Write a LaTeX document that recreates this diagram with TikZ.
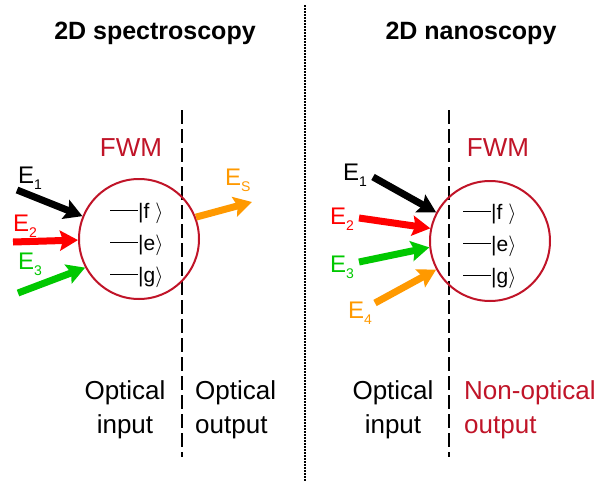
\documentclass[tikz,border=0pt]{standalone}
\usepackage{fontspec}
\setmainfont{Liberation Sans}
\usetikzlibrary{arrows.meta}

\definecolor{fwmred}{RGB}{192,20,40}
\definecolor{beamred}{RGB}{255,0,0}
\definecolor{beamgreen}{RGB}{0,200,0}
\definecolor{beamorange}{RGB}{255,153,0}

\newcommand{\Efield}[1]{E\raisebox{-0.55ex}{\fontsize{14}{14}\selectfont #1}}

\begin{document}
\begin{tikzpicture}[x=1pt,y=-1pt,
  beam/.style={line width=7pt,-{Stealth[length=18pt,width=20pt,inset=3pt]}},
  fwm/.style={circle,draw=fwmred,line width=2pt,minimum size=120pt,inner sep=0pt},
  elabel/.style={anchor=base west,inner sep=0pt,font=\fontsize{24}{24}\selectfont},
  level/.style={anchor=base west,inner sep=0pt,font=\fontsize{21}{21}\selectfont},
  side/.style={inner sep=0pt,font=\fontsize{26}{34.5}\selectfont},
  border/.style={line width=2.5pt,dash pattern=on 14pt off 5pt}]

\useasboundingbox (0,0) rectangle (606,482);

\draw[line width=2pt,dash pattern=on 1.5pt off 1.5pt] (305,5) -- (305,482); %divider

\node[anchor=base,inner sep=0pt,font=\fontsize{25}{25}\selectfont\bfseries] (titleL) at (155,39) {2D spectroscopy};
\node[anchor=base,inner sep=0pt,font=\fontsize{25}{25}\selectfont\bfseries] (titleR) at (471,39) {2D nanoscopy};

\draw[border] (182,110) -- (182,457);
\draw[border] (449,110) -- (449,457);

% spectroscopy
\node[fwm] (fwmL) at (139,239) {};
\node[inner sep=0pt,text=fwmred,font=\fontsize{26}{26}\selectfont] (fwmtextL) at (131,148) {FWM};
\node[level] (fL) at (110,218) {\rule[7.5pt]{28pt}{0.9pt}|f $\rangle$};
\node[level] (eL) at (110,250) {\rule[7.5pt]{28pt}{0.9pt}|e$\rangle$};
\node[level] (gL) at (110,282) {\rule[7.5pt]{28pt}{0.9pt}|g$\rangle$};

\coordinate (e1L) at (17,190);
\coordinate (e2L) at (13,242);
\coordinate (e3L) at (18,293);
\coordinate (esL) at (252,202);
\draw[beam,black] (e1L) -- (fwmL.158);
\draw[beam,beamred] (e2L) -- (fwmL.181);
\draw[beam,beamgreen] (e3L) -- (fwmL.208);
\draw[beam,beamorange] (fwmL.21) -- (esL);

\node[elabel] (E1L) at (18,183) {\Efield{1}};
\node[elabel,text=beamred] (E2L) at (13,231) {\Efield{2}};
\node[elabel,text=beamgreen] (E3L) at (18,269) {\Efield{3}};
\node[elabel,text=beamorange] (EsL) at (225,185) {\Efield{S}};

\node[side,anchor=north,align=center] (inL) at (125,380) {Optical\\input};
\node[side,anchor=north west,align=left] (outL) at (195,380) {Optical\\output};

% nanoscopy
\node[fwm] (fwmR) at (490,241) {};
\node[inner sep=0pt,text=fwmred,font=\fontsize{26}{26}\selectfont] (fwmtextR) at (498,148) {FWM};
\node[level] (fR) at (463,219) {\rule[7.5pt]{28pt}{0.9pt}|f $\rangle$};
\node[level] (eR) at (463,251) {\rule[7.5pt]{28pt}{0.9pt}|e$\rangle$};
\node[level] (gR) at (463,283) {\rule[7.5pt]{28pt}{0.9pt}|g$\rangle$};

\coordinate (e1R) at (373,177);
\coordinate (e2R) at (359,218);
\coordinate (e3R) at (359,262);
\coordinate (e4R) at (375,303);
\draw[beam,black] (e1R) -- (fwmR.152);
\draw[beam,beamred] (e2R) -- (fwmR.168);
\draw[beam,beamgreen] (e3R) -- (fwmR.186);
\draw[beam,beamorange] (e4R) -- (fwmR.208);

\node[elabel] (E1R) at (343,180) {\Efield{1}};
\node[elabel,text=beamred] (E2R) at (330,224) {\Efield{2}};
\node[elabel,text=beamgreen] (E3R) at (330,272) {\Efield{3}};
\node[elabel,text=beamorange] (E4R) at (348,318) {\Efield{4}};

\node[side,anchor=north,align=center] (inR) at (393,380) {Optical\\input};
\node[side,anchor=north west,align=left,text=fwmred] (outR) at (464,380) {Non-optical\\output};

\end{tikzpicture}
\end{document}
